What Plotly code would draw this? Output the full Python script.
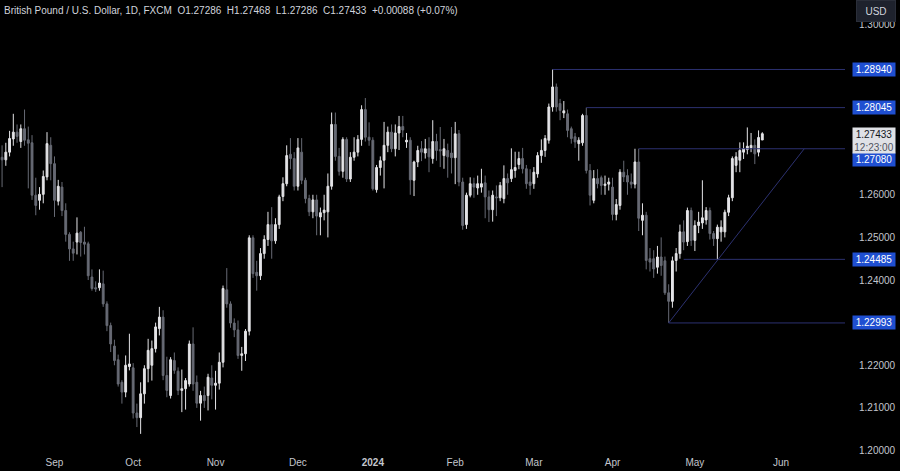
import pandas as pd
import plotly.graph_objects as go

# ---------------- data ----------------
holidays = ["2023-12-25", "2024-01-01"]
dates = [d for d in pd.bdate_range("2023-08-14", "2024-05-27")
         if d.strftime("%Y-%m-%d") not in holidays]

opens = [
    1.2688, 1.2682, 1.2700, 1.2731, 1.2747, 1.2725, 1.2755, 1.2729, 1.2722, 1.2599,
    1.2587, 1.2601, 1.2642, 1.2716, 1.2673, 1.2585, 1.2618, 1.2563, 1.2507, 1.2473,
    1.2489, 1.2512, 1.2489, 1.2485, 1.2407, 1.2382, 1.2382, 1.2391, 1.2344, 1.2293,
    1.2245, 1.2213, 1.2160, 1.2137, 1.2197, 1.2194, 1.2088, 1.2077, 1.2133, 1.2192,
    1.2200, 1.2239, 1.2286, 1.2313, 1.2176, 1.2129, 1.2211, 1.2186, 1.2141, 1.2145,
    1.2156, 1.2250, 1.2160, 1.2111, 1.2129, 1.2129, 1.2170, 1.2153, 1.2158, 1.2207,
    1.2377, 1.2344, 1.2299, 1.2283, 1.2223, 1.2227, 1.2280, 1.2499, 1.2418, 1.2410,
    1.2462, 1.2495, 1.2530, 1.2492, 1.2530, 1.2596, 1.2626, 1.2695, 1.2685, 1.2620,
    1.2700, 1.2634, 1.2591, 1.2560, 1.2588, 1.2548, 1.2558, 1.2560, 1.2620, 1.2765,
    1.2690, 1.2655, 1.2730, 1.2637, 1.2688, 1.2700, 1.2730, 1.2800, 1.2735, 1.2728,
    1.2612, 1.2664, 1.2681, 1.2716, 1.2747, 1.2708, 1.2745, 1.2760, 1.2724, 1.2728,
    1.2634, 1.2677, 1.2708, 1.2698, 1.2708, 1.2685, 1.2725, 1.2706, 1.2692, 1.2704,
    1.2698, 1.2687, 1.2743, 1.2630, 1.2530, 1.2599, 1.2626, 1.2616, 1.2618, 1.2628,
    1.2595, 1.2565, 1.2595, 1.2593, 1.2591, 1.2638, 1.2638, 1.2657, 1.2671, 1.2685,
    1.2661, 1.2630, 1.2626, 1.2649, 1.2692, 1.2704, 1.2728, 1.2806, 1.2853, 1.2814,
    1.2792, 1.2790, 1.2755, 1.2736, 1.2720, 1.2722, 1.2786, 1.2657, 1.2587, 1.2638,
    1.2640, 1.2622, 1.2625, 1.2618, 1.2554, 1.2575, 1.2653, 1.2645, 1.2630, 1.2625,
    1.2677, 1.2540, 1.2552, 1.2450, 1.2450, 1.2430, 1.2454, 1.2445, 1.2370, 1.2350,
    1.2446, 1.2462, 1.2513, 1.2490, 1.2563, 1.2493, 1.2528, 1.2534, 1.2541, 1.2563,
    1.2509, 1.2497, 1.2513, 1.2513, 1.2559, 1.2593, 1.2669, 1.2681, 1.2700, 1.2706,
    1.2710, 1.2716, 1.2700, 1.27286,
]
highs = [
    1.2716, 1.2722, 1.2750, 1.2790, 1.2765, 1.2765, 1.2800, 1.2760, 1.2740, 1.2640,
    1.2618, 1.2657, 1.2747, 1.2735, 1.2690, 1.2635, 1.2630, 1.2580, 1.2512, 1.2490,
    1.2547, 1.2515, 1.2525, 1.2490, 1.2425, 1.2397, 1.2425, 1.2422, 1.2350, 1.2300,
    1.2260, 1.2225, 1.2165, 1.2223, 1.2274, 1.2205, 1.2110, 1.2160, 1.2200, 1.2262,
    1.2258, 1.2300, 1.2337, 1.2329, 1.2220, 1.2219, 1.2230, 1.2195, 1.2190, 1.2170,
    1.2258, 1.2289, 1.2176, 1.2140, 1.2150, 1.2180, 1.2200, 1.2187, 1.2230, 1.2387,
    1.2428, 1.2350, 1.2310, 1.2305, 1.2243, 1.2285, 1.2505, 1.2505, 1.2445, 1.2475,
    1.2505, 1.2560, 1.2571, 1.2545, 1.2600, 1.2641, 1.2716, 1.2733, 1.2700, 1.2733,
    1.2733, 1.2640, 1.2600, 1.2600, 1.2600, 1.2570, 1.2600, 1.2650, 1.2793, 1.2793,
    1.2710, 1.2735, 1.2735, 1.2700, 1.2735, 1.2740, 1.2810, 1.2827, 1.2770, 1.2735,
    1.2670, 1.2690, 1.2771, 1.2760, 1.2765, 1.2765, 1.2785, 1.2785, 1.2745, 1.2735,
    1.2680, 1.2715, 1.2726, 1.2731, 1.2735, 1.2775, 1.2743, 1.2759, 1.2731, 1.2720,
    1.2759, 1.2771, 1.2752, 1.2640, 1.2605, 1.2641, 1.2640, 1.2645, 1.2661, 1.2645,
    1.2610, 1.2610, 1.2622, 1.2630, 1.2669, 1.2650, 1.2709, 1.2701, 1.2701, 1.2710,
    1.2670, 1.2660, 1.2665, 1.2700, 1.2730, 1.2740, 1.2814, 1.2894, 1.2861, 1.2825,
    1.2820, 1.2800, 1.2760, 1.2745, 1.2735, 1.2790, 1.28045, 1.2672, 1.2658, 1.2660,
    1.2645, 1.2645, 1.2640, 1.2640, 1.2590, 1.2660, 1.2680, 1.2660, 1.2650, 1.2708,
    1.2708, 1.2580, 1.2560, 1.2475, 1.2470, 1.2480, 1.2500, 1.2455, 1.2390, 1.2455,
    1.2475, 1.2530, 1.2540, 1.2570, 1.2570, 1.2540, 1.2560, 1.2634, 1.2571, 1.2570,
    1.2515, 1.2530, 1.2540, 1.2565, 1.2600, 1.2690, 1.2700, 1.2723, 1.2723, 1.2758,
    1.2745, 1.2730, 1.2751, 1.27468,
]
lows = [
    1.2618, 1.2668, 1.2690, 1.2715, 1.2722, 1.2710, 1.2715, 1.2615, 1.2588, 1.2552,
    1.2565, 1.2580, 1.2634, 1.2634, 1.2548, 1.2575, 1.2550, 1.2490, 1.2445, 1.2445,
    1.2460, 1.2455, 1.2460, 1.2400, 1.2375, 1.2372, 1.2375, 1.2337, 1.2280, 1.2231,
    1.2200, 1.2150, 1.2110, 1.2125, 1.2188, 1.2075, 1.2055, 1.2039, 1.2110, 1.2160,
    1.2164, 1.2230, 1.2270, 1.2165, 1.2125, 1.2122, 1.2180, 1.2130, 1.2090, 1.2096,
    1.2150, 1.2140, 1.2100, 1.2070, 1.2100, 1.2094, 1.2120, 1.2096, 1.2143, 1.2195,
    1.2335, 1.2288, 1.2266, 1.2215, 1.2187, 1.2210, 1.2270, 1.2405, 1.2375, 1.2400,
    1.2450, 1.2480, 1.2450, 1.2485, 1.2520, 1.2585, 1.2620, 1.2660, 1.2610, 1.2610,
    1.2625, 1.2580, 1.2550, 1.2545, 1.2505, 1.2505, 1.2540, 1.2500, 1.2612, 1.2680,
    1.2645, 1.2640, 1.2630, 1.2630, 1.2680, 1.2690, 1.2715, 1.2725, 1.2715, 1.2610,
    1.2605, 1.2645, 1.2615, 1.2700, 1.2700, 1.2690, 1.2705, 1.2735, 1.2710, 1.2600,
    1.2597, 1.2665, 1.2679, 1.2685, 1.2653, 1.2673, 1.2680, 1.2665, 1.2661, 1.2640,
    1.2650, 1.2625, 1.2620, 1.2518, 1.2520, 1.2594, 1.2593, 1.2600, 1.2605, 1.2545,
    1.2536, 1.2537, 1.2550, 1.2585, 1.2580, 1.2600, 1.2630, 1.2640, 1.2660, 1.2650,
    1.2614, 1.2600, 1.2614, 1.2640, 1.2675, 1.2689, 1.2720, 1.2795, 1.2795, 1.2775,
    1.2780, 1.2735, 1.2720, 1.2710, 1.2680, 1.2715, 1.2650, 1.2575, 1.2580, 1.2615,
    1.2600, 1.2600, 1.2610, 1.2540, 1.2540, 1.2565, 1.2630, 1.2600, 1.2615, 1.2615,
    1.2515, 1.2505, 1.2425, 1.2420, 1.2405, 1.2415, 1.2410, 1.2365, 1.22993, 1.2335,
    1.2420, 1.2450, 1.2470, 1.2480, 1.2480, 1.2468, 1.2510, 1.2520, 1.2530, 1.2495,
    1.2480, 1.24485, 1.2490, 1.2500, 1.2550, 1.2585, 1.2653, 1.2653, 1.2684, 1.2695,
    1.2700, 1.2672, 1.2690, 1.27286,
]
closes = [
    1.2682, 1.2700, 1.2732, 1.2747, 1.2737, 1.2755, 1.2728, 1.2721, 1.2599, 1.2575,
    1.2601, 1.2643, 1.2720, 1.2673, 1.2587, 1.2620, 1.2563, 1.2507, 1.2473, 1.2463,
    1.2510, 1.2488, 1.2484, 1.2410, 1.2380, 1.2379, 1.2393, 1.2344, 1.2293, 1.2250,
    1.2211, 1.2156, 1.2137, 1.2200, 1.2203, 1.2088, 1.2077, 1.2133, 1.2192, 1.2235,
    1.2239, 1.2290, 1.2313, 1.2176, 1.2141, 1.2213, 1.2188, 1.2141, 1.2145, 1.2164,
    1.2250, 1.2156, 1.2111, 1.2129, 1.2117, 1.2172, 1.2153, 1.2158, 1.2207, 1.2380,
    1.2344, 1.2299, 1.2283, 1.2223, 1.2227, 1.2280, 1.2499, 1.2415, 1.2410, 1.2462,
    1.2495, 1.2530, 1.2492, 1.2530, 1.2595, 1.2626, 1.2692, 1.2685, 1.2620, 1.2710,
    1.2634, 1.2591, 1.2560, 1.2588, 1.2550, 1.2558, 1.2564, 1.2620, 1.2765, 1.2690,
    1.2655, 1.2730, 1.2637, 1.2688, 1.2700, 1.2730, 1.2800, 1.2735, 1.2728, 1.2614,
    1.2664, 1.2680, 1.2716, 1.2747, 1.2708, 1.2745, 1.2760, 1.2752, 1.2728, 1.2635,
    1.2677, 1.2704, 1.2700, 1.2708, 1.2689, 1.2725, 1.2704, 1.2703, 1.2708, 1.2689,
    1.2687, 1.2743, 1.2630, 1.2528, 1.2599, 1.2626, 1.2618, 1.2626, 1.2626, 1.2595,
    1.2565, 1.2599, 1.2593, 1.2622, 1.2638, 1.2628, 1.2659, 1.2664, 1.2685, 1.2661,
    1.2626, 1.2622, 1.2653, 1.2692, 1.2704, 1.2732, 1.2806, 1.2853, 1.2806, 1.2798,
    1.2797, 1.2751, 1.2732, 1.2724, 1.2728, 1.2786, 1.2657, 1.2599, 1.2638, 1.2626,
    1.2622, 1.2625, 1.2630, 1.2554, 1.2577, 1.2653, 1.2642, 1.2630, 1.2625, 1.2677,
    1.2545, 1.2552, 1.2446, 1.2442, 1.2426, 1.2454, 1.2434, 1.2370, 1.2350, 1.2445,
    1.2462, 1.2513, 1.2489, 1.2563, 1.2493, 1.2528, 1.2536, 1.2546, 1.2563, 1.2509,
    1.2497, 1.2524, 1.2524, 1.2559, 1.2593, 1.2685, 1.2689, 1.2704, 1.2708, 1.2714,
    1.2716, 1.2696, 1.27345, 1.27433,
]

# drawn levels (price, start date)
level_prices = [1.28940, 1.28045, 1.27080, 1.24485, 1.22993]
level_starts = ["2024-03-08", "2024-03-21", "2024-04-10", "2024-04-26", "2024-04-22"]
level_labels = ["1.28940", "1.28045", "1.27080", "1.24485", "1.22993"]
label_shift = [0, 0, -10.8, 0, 0]

trend_x = ["2024-04-22", "2024-06-11 04:48"]
trend_y = [1.22993, 1.27080]

month_ticks = ["2023-09-01", "2023-10-02", "2023-11-01", "2023-12-01", "2024-01-02",
               "2024-02-01", "2024-03-01", "2024-04-01", "2024-05-01", "2024-06-03"]
month_text = ["Sep", "Oct", "Nov", "Dec", "<b>2024</b>", "Feb", "Mar", "Apr", "May", "Jun"]

price_ticks = [1.20, 1.21, 1.22, 1.24, 1.25, 1.26, 1.30]

last_price = 1.27433
countdown = "12:23:00"
header = ("British Pound / U.S. Dollar, 1D, FXCM&nbsp;&nbsp;O1.27286&nbsp;&nbsp;H1.27468"
          "&nbsp;&nbsp;L1.27286&nbsp;&nbsp;C1.27433&nbsp;&nbsp;+0.00088 (+0.07%)")

# ---------------- style ----------------
BG = "#000000"
UP = "#e4e4e7"
DN = "#676a74"
LINE = "#2c3170"
BLUE = "#1f4fd1"
TXT = "#c3c6cd"
FONT = "Liberation Sans, Arial, sans-serif"

x_range = ["2023-08-11 10:43", "2024-06-26 02:00"]
y_range = [1.198944, 1.305702]

fig = go.Figure()
fig.add_trace(go.Candlestick(
    x=dates, open=opens, high=highs, low=lows, close=closes,
    increasing=dict(line=dict(color=UP, width=1), fillcolor=UP),
    decreasing=dict(line=dict(color=DN, width=1), fillcolor=DN),
    whiskerwidth=0, showlegend=False, hoverinfo="skip",
))

shapes = []
for p, s in zip(level_prices, level_starts):
    shapes.append(dict(type="line", xref="x", yref="y", x0=s, x1=x_range[1], y0=p, y1=p,
                       line=dict(color=LINE, width=1)))
shapes.append(dict(type="line", xref="x", yref="y", x0=trend_x[0], x1=trend_x[1],
                   y0=trend_y[0], y1=trend_y[1], line=dict(color=LINE, width=1)))

annotations = []
for p, t, sh in zip(level_prices, level_labels, label_shift):
    annotations.append(dict(xref="paper", yref="y", x=1, y=p, xanchor="left", yanchor="middle",
                            xshift=7, yshift=sh, text=t, showarrow=False,
                            bgcolor=BLUE, width=40, height=11, borderpad=1,
                            font=dict(family=FONT, size=10, color="#ffffff")))
annotations.append(dict(xref="paper", yref="y", x=1, y=last_price, xanchor="left", yanchor="middle",
                        xshift=7, yshift=-6.5,
                        text=f"{last_price:.5f}<br><span style='color:#50535e'>{countdown}</span>",
                        showarrow=False, bgcolor="#dfe1e6", width=40, height=23, borderpad=1,
                        font=dict(family=FONT, size=10, color="#131722")))
annotations.append(dict(xref="paper", yref="paper", x=0, y=1, xanchor="left", yanchor="top",
                        xshift=2, yshift=-3, text=header, showarrow=False,
                        font=dict(family=FONT, size=10, color="#d1d4dc")))
annotations.append(dict(xref="paper", yref="paper", x=1, y=1, xanchor="left", yanchor="top",
                        xshift=11, yshift=0, text="USD", showarrow=False,
                        bgcolor="#1e222d", bordercolor="#2a2e39", borderwidth=1,
                        width=36, height=18, borderpad=1,
                        font=dict(family=FONT, size=10, color="#d1d4dc")))

fig.update_layout(
    width=900, height=471,
    margin=dict(l=0, r=55, t=0, b=16),
    paper_bgcolor=BG, plot_bgcolor=BG,
    shapes=shapes, annotations=annotations,
    font=dict(family=FONT, size=10, color=TXT),
    showlegend=False,
    xaxis=dict(
        type="date", range=x_range, rangeslider=dict(visible=False),
        rangebreaks=[dict(bounds=["sat", "mon"]), dict(values=holidays)],
        tickmode="array", tickvals=month_ticks, ticktext=month_text,
        showgrid=False, zeroline=False, showline=False, ticks="",
        tickfont=dict(family=FONT, size=10, color=TXT),
    ),
    yaxis=dict(
        side="right", range=y_range, tickmode="array", tickvals=price_ticks,
        ticktext=[f"{v:.5f}" for v in price_ticks],
        showgrid=False, zeroline=False, showline=False, ticks="",
        ticklabelstandoff=13,
        tickfont=dict(family=FONT, size=10, color=TXT),
    ),
)

fig.write_html(
    "out.html",
    config={"displayModeBar": False},
    post_script="document.body.style.margin='0';document.body.style.background='#000';",
)
